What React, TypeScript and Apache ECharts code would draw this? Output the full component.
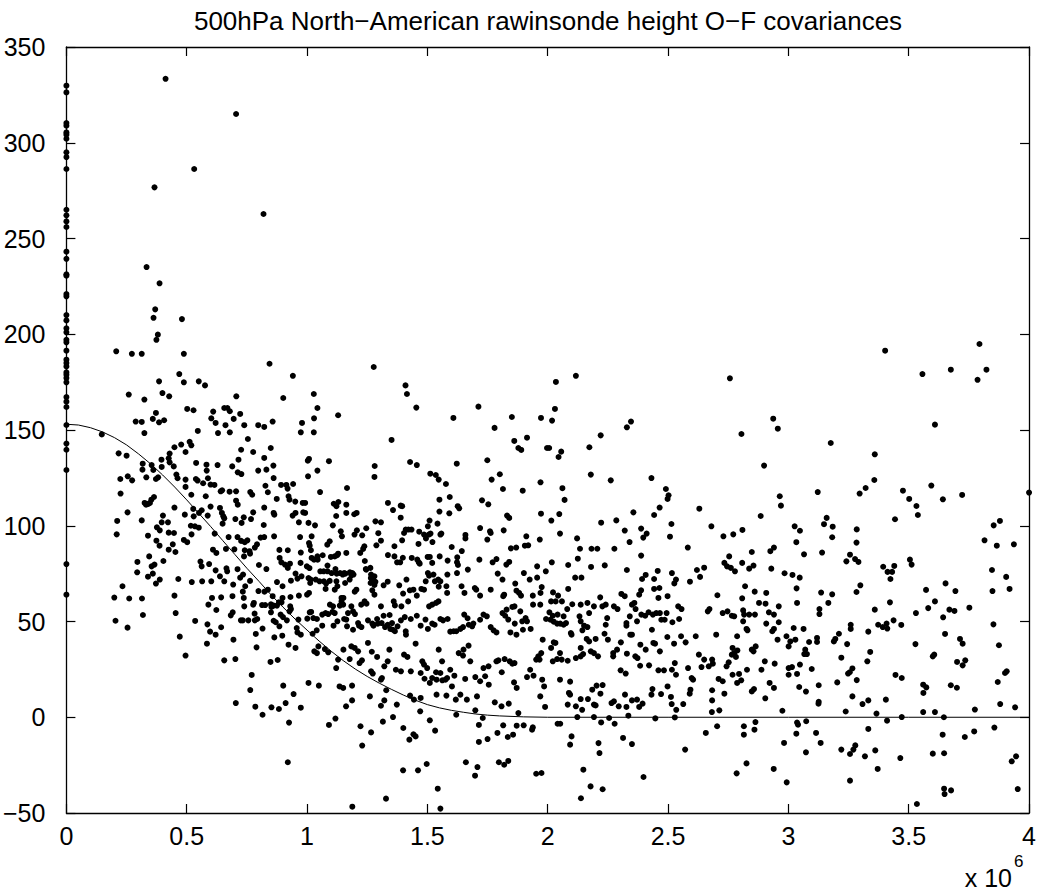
import React, { useEffect, useRef } from "react";
import * as echarts from "echarts";

const TITLE = "500hPa North\u2212American rawinsonde height O\u2212F covariances";
const X_TICKS = [0, 0.5, 1, 1.5, 2, 2.5, 3, 3.5, 4];
const Y_TICKS = [-50, 0, 50, 100, 150, 200, 250, 300, 350];

// separation distance in units of 10^6 m, covariance values
const zeroDistCov = [329.8, 326.3, 310.3, 308.9, 305.4, 304.2, 302.1, 295.0, 292.5, 286.3, 265.0, 262.1, 258.9, 256.0, 243.1, 239.4, 231.3, 230.6, 221.0, 219.8, 210.0, 207.2, 203.1, 201.0, 197.1, 195.8, 191.4, 186.7, 185.0, 183.2, 180.1, 178.9, 177.1, 174.9, 167.2, 164.8, 162.0, 152.6, 142.9, 139.7, 129.1, 80.0, 64.0];

const ptsUpper = [[0.412,333.4],[0.705,315.0],[0.531,286.3],[0.366,276.7],[0.819,262.8],[0.333,235.1],[0.387,226.6],[0.369,213.0],[0.362,208.6],[0.480,207.9],[0.380,199.8],[0.374,197.1],[0.207,191.1],[0.272,189.8],[0.313,189.8],[0.488,189.8],[0.844,184.6],[0.469,179.2],[0.941,178.3],[1.277,182.9],[2.117,178.3],[2.757,177.0],[3.402,191.4],[3.794,194.9],[3.557,179.2],[3.675,181.5],[3.823,181.5],[3.786,176.2]];

const ptsNear = [[0.385,175.4],[0.488,174.9],[0.550,175.4],[0.576,173.3],[0.259,168.5],[0.399,169.3],[0.427,167.6],[0.706,167.6],[0.901,166.7],[0.324,165.9],[0.502,161.0],[0.528,160.3],[0.656,161.5],[0.669,161.5],[0.679,159.8],[0.610,159.6],[0.722,158.4],[0.372,158.9],[0.359,155.8],[0.385,154.0],[0.406,155.1],[0.288,154.4],[0.313,154.2],[0.602,156.1],[0.620,153.7],[0.695,155.8],[0.661,152.5],[0.739,152.5],[0.797,152.5],[0.822,151.6],[0.857,154.4],[0.979,153.7],[0.324,148.4],[0.546,149.5],[0.630,148.4],[0.679,148.8],[0.974,148.8],[0.147,147.7],[0.754,145.3],[0.477,142.4],[0.512,143.8],[0.519,142.0],[0.449,141.0],[0.495,138.5],[0.726,139.7],[0.776,138.5],[0.217,137.8],[0.250,136.6],[0.429,137.7],[0.849,140.6],[0.317,132.4],[0.354,131.7],[0.395,134.5],[0.425,135.2],[0.429,133.1],[0.539,132.8],[0.582,131.9],[0.628,131.7],[0.689,131.0],[0.715,134.5],[0.822,135.4],[0.316,129.3],[0.361,129.1],[0.396,130.7],[0.446,131.0],[0.583,128.8],[0.712,127.9],[0.727,127.0],[0.797,128.8],[0.831,129.3],[0.860,131.4],[0.224,124.4],[0.255,125.8],[0.273,123.7],[0.332,125.3],[0.372,124.4],[0.381,125.3],[0.457,126.7],[0.462,124.8],[0.495,124.1],[0.538,124.4],[0.545,123.6],[0.568,122.2],[0.588,124.8],[0.599,121.5],[0.615,121.3],[0.861,124.9],[0.225,116.8],[0.495,120.3],[0.641,118.0],[0.647,118.5],[0.678,117.8],[0.705,118.0],[0.764,117.6],[0.772,116.2],[0.827,120.9],[0.837,117.5],[0.892,121.3],[0.914,121.3],[0.919,119.4],[0.942,121.8],[0.353,113.6],[0.364,115.0],[0.325,111.9],[0.331,111.0],[0.340,111.4],[0.347,111.9],[0.519,116.2],[0.579,115.4],[0.705,113.1],[0.874,114.0],[0.923,115.4],[0.927,113.6],[0.951,112.6],[0.982,111.9],[0.254,107.0],[0.449,109.5],[0.492,105.8],[0.527,108.8],[0.529,104.9],[0.551,106.7],[0.562,108.1],[0.587,105.3],[0.599,110.0],[0.638,109.3],[0.646,106.7],[0.652,104.9],[0.656,103.9],[0.702,103.5],[0.712,111.0],[0.737,104.4],[0.776,107.0],[0.822,109.5],[0.861,106.7],[0.864,105.8],[0.940,105.3],[0.952,106.7],[0.984,107.0],[0.211,102.5],[0.313,102.8],[0.401,105.3],[0.396,101.8],[0.422,101.8],[0.376,99.2],[0.388,97.6],[0.517,100.0],[0.534,99.7],[0.550,99.0],[0.649,101.1],[0.728,101.5],[0.767,103.5],[0.820,100.4],[0.966,101.8],[0.209,95.5],[0.339,94.8],[0.425,96.4],[0.447,96.2],[0.520,95.5],[0.616,95.9],[0.674,94.1],[0.711,94.1],[0.726,92.1],[0.741,91.4],[0.752,92.4],[0.807,93.8],[0.822,94.1],[0.863,94.5],[0.971,94.1],[0.374,92.2],[0.387,89.6],[0.442,90.3],[0.488,92.6],[0.502,91.4],[0.425,87.5],[0.453,86.3],[0.609,87.5],[0.623,85.8],[0.663,87.9],[0.698,87.7],[0.741,87.2],[0.761,86.7],[0.783,88.6],[0.792,90.3],[0.885,87.4],[0.920,87.2],[0.974,86.0],[0.295,81.1],[0.344,84.0],[0.366,79.7],[0.354,78.8],[0.403,81.6],[0.557,81.3],[0.562,78.8],[0.593,80.0],[0.620,76.7],[0.665,77.8],[0.668,76.2],[0.711,77.3],[0.738,84.0],[0.763,85.4],[0.800,79.5],[0.831,77.4],[0.886,83.2],[0.893,80.9],[0.908,79.7],[0.920,78.0],[0.929,80.2],[0.952,75.0],[0.973,80.6],[0.294,75.7],[0.339,73.4],[0.359,75.0],[0.372,69.8],[0.388,71.9],[0.465,72.2],[0.521,70.6],[0.564,71.0],[0.602,71.0],[0.638,73.6],[0.656,71.0],[0.693,69.3],[0.722,72.9],[0.734,74.5],[0.743,68.4],[0.763,71.2],[0.798,65.9],[0.823,65.6],[0.837,66.6],[0.875,70.6],[0.898,68.4],[0.933,71.3],[0.960,72.4],[0.977,73.6],[0.233,68.4],[0.199,62.5],[0.261,62.0],[0.314,62.0],[0.449,63.5],[0.605,62.3],[0.643,62.6],[0.690,63.2],[0.733,65.6],[0.737,62.3],[0.857,63.2],[0.898,62.3],[0.931,62.8],[0.966,63.5]];

const ptsNearLow = [[0.204,50.4],[0.254,46.8],[0.318,53.4],[0.454,54.4],[0.471,42.1],[0.495,32.2],[0.535,50.3],[0.590,58.8],[0.623,56.0],[0.586,48.5],[0.597,44.7],[0.620,43.1],[0.584,38.4],[0.643,47.0],[0.683,53.2],[0.691,54.8],[0.694,40.5],[0.656,29.7],[0.702,30.4],[0.725,50.6],[0.733,50.6],[0.756,50.6],[0.739,57.9],[0.776,58.8],[0.779,59.7],[0.782,54.1],[0.783,50.6],[0.793,51.3],[0.787,43.5],[0.815,46.3],[0.790,36.5],[0.813,58.6],[0.826,58.6],[0.850,59.0],[0.852,57.6],[0.861,58.3],[0.875,58.3],[0.883,60.0],[0.894,60.0],[0.850,54.8],[0.890,53.6],[0.900,52.3],[0.861,50.4],[0.870,49.6],[0.885,47.5],[0.916,50.6],[0.930,57.9],[0.933,56.5],[0.927,55.3],[0.964,51.0],[0.957,46.6],[0.960,44.3],[0.974,43.1],[0.864,41.7],[0.897,42.6],[0.923,37.9],[0.952,36.2],[0.848,28.9],[0.878,29.9],[0.770,22.1],[0.764,14.2],[0.704,7.4],[0.785,5.5],[0.815,1.3],[0.852,5.2],[0.883,4.3],[0.901,16.5],[0.911,7.4],[0.944,12.1],[0.974,5.0],[0.925,-2.8],[0.920,-23.5]];

const ptsMid = [[1.409,173.3],[1.415,168.8],[1.028,168.8],[1.043,161.5],[1.029,156.1],[1.129,157.7],[1.028,148.8],[1.454,161.7],[1.351,144.8],[1.608,156.3],[1.712,162.2],[1.779,151.1],[1.851,156.8],[1.972,156.3],[1.861,144.3],[1.878,140.6],[1.890,139.6],[1.914,146.0],[1.997,140.6],[1.003,134.0],[1.008,134.9],[1.091,133.7],[1.004,125.8],[1.043,128.8],[1.054,117.6],[1.281,131.2],[1.280,125.5],[1.428,133.3],[1.456,131.7],[1.622,132.4],[1.749,134.2],[1.512,127.2],[1.535,126.5],[1.547,124.1],[1.577,121.8],[1.767,124.1],[1.801,126.9],[1.814,119.2],[1.896,118.3],[1.970,122.7],[1.166,119.7],[0.992,111.9],[0.992,106.7],[1.111,111.5],[1.122,110.2],[1.130,112.4],[1.163,111.0],[1.121,105.1],[1.163,106.7],[1.196,106.0],[1.206,106.7],[1.336,111.9],[1.357,108.2],[1.389,110.5],[1.395,110.2],[1.389,104.2],[1.550,113.6],[1.593,115.0],[1.550,107.4],[1.591,106.5],[1.626,110.2],[1.632,109.1],[1.727,113.3],[1.753,111.2],[1.831,105.3],[1.840,104.1],[1.972,106.3],[1.006,101.5],[1.033,100.2],[1.107,100.2],[1.019,94.5],[1.008,91.0],[1.011,89.6],[1.094,91.9],[1.084,90.1],[1.140,97.1],[1.145,94.5],[1.197,95.4],[1.207,97.6],[1.229,95.0],[1.246,98.7],[1.284,102.3],[1.307,101.8],[1.296,96.1],[1.307,92.2],[1.288,89.8],[1.238,89.3],[1.233,87.9],[1.221,85.8],[1.336,84.7],[1.363,89.3],[1.395,92.4],[1.403,96.2],[1.410,98.0],[1.421,98.0],[1.434,98.0],[1.463,90.5],[1.466,96.9],[1.486,95.4],[1.494,93.4],[1.506,95.4],[1.513,95.9],[1.521,91.5],[1.502,99.7],[1.509,102.7],[1.542,101.1],[1.554,95.4],[1.558,95.9],[1.363,84.0],[1.374,80.9],[1.398,83.3],[1.387,80.9],[1.435,83.2],[1.458,82.3],[1.468,80.2],[1.464,80.9],[1.501,83.7],[1.510,83.7],[1.520,80.6],[1.551,84.0],[1.584,81.8],[1.601,88.9],[1.623,80.9],[1.627,79.5],[1.624,83.5],[1.643,86.8],[1.658,95.2],[1.658,93.4],[1.716,82.3],[1.719,98.8],[1.749,92.8],[1.760,97.1],[1.763,96.2],[1.817,97.6],[1.771,80.9],[1.787,82.6],[1.828,79.7],[1.840,81.1],[1.847,88.2],[1.869,88.6],[1.911,94.5],[1.919,89.8],[1.905,89.6],[1.967,92.8],[1.016,87.2],[1.019,83.2],[1.029,82.3],[1.044,82.3],[1.043,84.0],[1.065,84.6],[1.099,83.7],[1.115,84.0],[1.129,85.4],[1.125,84.6],[1.163,85.8],[0.999,78.8],[1.010,77.9],[1.055,76.2],[1.069,76.2],[1.085,79.2],[1.085,76.2],[1.102,75.3],[1.118,77.4],[1.123,75.0],[1.137,75.3],[1.148,74.5],[1.154,75.3],[1.159,75.0],[1.178,75.7],[1.188,75.3],[1.193,74.5],[1.240,81.6],[1.244,77.4],[1.246,77.1],[1.263,78.0],[1.265,72.7],[1.280,73.6],[1.266,74.5],[1.006,72.7],[1.013,70.1],[1.015,71.9],[1.036,71.9],[1.052,71.0],[1.070,71.0],[1.079,69.8],[1.094,71.2],[1.122,71.0],[1.126,68.4],[1.158,70.1],[1.177,71.9],[1.184,74.1],[1.264,70.1],[1.271,71.2],[1.280,69.1],[1.284,70.7],[1.318,68.9],[1.335,70.8],[1.383,68.9],[1.399,64.6],[1.413,71.9],[1.427,66.3],[1.442,66.6],[1.456,63.5],[1.475,67.0],[1.486,66.6],[1.493,71.0],[1.502,75.3],[1.507,73.9],[1.525,74.5],[1.531,71.0],[1.545,71.9],[1.554,71.0],[1.547,68.2],[1.579,68.4],[1.582,64.9],[1.583,74.5],[1.623,75.3],[1.642,68.4],[1.668,77.1],[1.654,64.9],[1.697,67.5],[1.703,66.6],[1.719,63.5],[1.763,66.6],[1.792,75.0],[1.812,71.9],[1.819,64.0],[1.815,63.2],[1.865,69.8],[1.870,66.1],[1.881,64.9],[1.889,63.5],[1.901,75.3],[1.925,71.9],[1.938,63.5],[1.956,72.9],[1.956,78.8],[1.970,64.9],[1.975,68.0],[1.992,76.2],[1.143,62.3],[1.151,62.3],[1.000,64.0],[1.008,64.9],[1.077,67.0],[1.115,66.6],[1.205,66.6],[1.198,65.6],[1.271,66.3],[1.280,64.0]];

const ptsMidLow = [[1.011,54.8],[1.017,55.0],[1.041,51.3],[1.026,51.8],[1.001,51.5],[1.063,53.6],[1.077,54.4],[1.088,53.9],[1.106,55.0],[1.115,54.4],[1.095,58.8],[1.108,57.9],[1.136,58.3],[1.143,60.5],[1.150,58.8],[1.170,54.4],[1.184,57.9],[1.191,55.3],[1.199,53.9],[1.225,58.8],[1.239,60.5],[1.247,59.3],[1.307,57.9],[1.343,53.4],[1.360,60.5],[1.365,58.4],[1.392,57.9],[1.420,60.5],[1.507,57.9],[1.520,58.8],[1.536,59.7],[1.546,60.5],[1.063,47.8],[1.040,45.4],[1.023,43.6],[1.110,47.8],[1.126,50.1],[1.154,51.3],[1.163,51.0],[1.166,47.5],[1.191,45.7],[1.212,49.2],[1.216,47.8],[1.226,47.1],[1.253,50.6],[1.271,48.9],[1.276,47.8],[1.291,51.3],[1.294,48.9],[1.310,49.2],[1.318,53.0],[1.324,47.1],[1.335,48.3],[1.346,46.1],[1.353,49.2],[1.357,45.7],[1.365,44.9],[1.376,47.5],[1.390,50.6],[1.406,52.3],[1.410,44.9],[1.411,43.1],[1.431,51.3],[1.456,53.0],[1.472,47.8],[1.492,51.0],[1.502,46.1],[1.520,48.9],[1.530,48.3],[1.554,51.3],[1.565,50.6],[1.584,51.3],[1.595,44.7],[1.609,44.9],[1.620,44.9],[1.637,46.1],[1.648,47.1],[1.653,53.6],[1.667,51.7],[1.672,48.3],[1.686,47.5],[1.691,48.9],[1.719,50.9],[1.733,53.6],[1.747,52.7],[1.763,47.1],[1.775,45.4],[1.787,44.3],[1.812,54.4],[1.823,53.0],[1.829,56.2],[1.853,57.6],[1.862,57.9],[1.886,55.3],[1.894,50.1],[1.908,51.8],[1.914,50.1],[1.929,46.1],[1.939,58.8],[1.969,58.8],[1.836,51.0],[1.863,48.9],[1.845,44.3],[1.870,43.1],[1.897,45.7],[1.979,40.5],[1.993,51.3],[1.030,34.4],[1.041,33.5],[1.047,37.0],[1.074,35.6],[1.088,33.9],[1.129,30.1],[1.121,25.7],[1.151,35.3],[1.177,30.4],[1.184,37.0],[1.198,36.2],[1.212,34.4],[1.218,28.3],[1.228,29.7],[1.253,38.8],[1.266,24.0],[1.273,22.8],[1.269,34.2],[1.291,31.5],[1.307,19.6],[1.311,20.5],[1.321,26.6],[1.335,29.2],[1.342,35.3],[1.369,24.8],[1.390,24.0],[1.403,32.7],[1.417,31.5],[1.431,24.0],[1.451,38.4],[1.472,23.1],[1.479,29.2],[1.486,27.5],[1.488,20.1],[1.499,25.7],[1.510,17.9],[1.520,20.5],[1.536,23.5],[1.538,19.6],[1.547,35.3],[1.561,29.2],[1.554,23.1],[1.562,19.3],[1.575,19.6],[1.582,20.5],[1.595,24.8],[1.602,16.1],[1.612,21.7],[1.630,33.5],[1.648,32.2],[1.650,35.3],[1.657,20.0],[1.671,37.4],[1.678,29.2],[1.699,21.0],[1.706,10.9],[1.719,18.8],[1.733,25.7],[1.740,21.4],[1.754,26.6],[1.755,17.0],[1.780,7.8],[1.787,29.2],[1.795,29.7],[1.809,23.5],[1.821,30.4],[1.842,29.2],[1.853,28.0],[1.862,28.3],[1.860,18.2],[1.871,15.3],[1.878,2.2],[1.914,21.0],[1.927,24.8],[1.941,21.7],[1.952,30.1],[1.961,31.8],[1.966,30.1],[1.973,33.5],[1.977,19.6],[1.985,16.1],[1.538,11.8],[1.579,11.3],[1.618,9.2],[1.637,11.8],[1.664,9.2],[1.472,10.1],[1.444,9.2],[1.428,11.3],[1.329,14.1],[1.307,6.0],[1.321,8.8],[1.373,6.6],[1.261,10.9],[1.162,5.7],[1.187,8.8],[1.006,17.9],[1.049,16.5],[1.135,16.1],[1.150,15.3],[1.187,16.5],[1.808,5.7],[1.838,7.1],[1.969,10.9],[1.989,5.4],[1.699,3.6],[1.620,1.3],[1.730,-0.4],[1.470,3.1],[1.510,-1.6],[1.532,-7.0],[1.315,-2.3],[1.357,0.1],[1.400,-5.6],[1.442,-8.9],[1.451,-10.0],[1.425,-11.7],[1.266,-7.9],[1.222,-4.7],[1.229,-14.8],[1.091,-4.0],[1.118,-0.7],[1.714,-4.0],[1.714,-12.9],[1.750,-11.4],[1.791,-8.2],[1.815,-4.2],[1.834,-10.3],[1.856,-9.1],[1.871,-4.4],[1.900,-4.2],[1.938,-5.3],[1.935,-6.5],[1.660,-23.5],[1.708,-26.0],[1.698,-30.5],[1.797,-23.5],[1.819,-24.8],[1.836,-22.8],[1.952,-29.5],[1.974,-29.1],[1.399,-27.7],[1.461,-27.7],[1.497,-24.4],[1.543,-37.3],[1.328,-42.5],[1.188,-46.7],[1.554,-47.7]];

const ptsFarMid = [[2.034,175.1],[2.030,161.0],[2.018,154.9],[2.006,140.6],[2.056,138.7],[2.045,135.9],[2.220,147.2],[2.173,141.0],[2.329,151.4],[2.346,154.4],[2.179,126.7],[2.262,123.7],[2.431,124.9],[2.491,119.2],[2.502,115.9],[2.498,114.0],[2.465,109.5],[2.442,105.6],[2.630,108.9],[2.061,119.6],[2.070,113.5],[2.048,106.1],[2.015,102.7],[2.051,95.9],[2.222,101.6],[2.285,102.8],[2.356,107.0],[2.320,97.5],[2.340,91.5],[2.388,98.5],[2.411,95.9],[2.397,93.8],[2.514,100.9],[2.508,94.3],[2.122,93.4],[2.134,88.0],[2.182,88.0],[2.206,88.0],[2.277,88.0],[2.125,82.8],[2.017,80.9],[2.085,79.5],[2.180,78.5],[2.237,79.3],[2.388,84.4],[2.582,88.6],[2.680,99.7],[2.730,94.5],[2.771,95.5],[2.809,97.8],[2.754,84.0],[2.734,80.6],[2.745,78.8],[2.761,78.0],[2.778,76.2],[2.808,80.6],[2.848,86.3],[2.837,77.6],[2.855,79.2],[2.885,105.1],[2.899,131.4],[2.937,155.9],[2.956,150.7],[2.805,147.9],[2.964,115.4],[2.969,110.5],[2.925,86.7],[2.940,88.6],[2.929,77.6],[2.984,75.2],[2.329,76.9],[2.407,74.3],[2.392,72.2],[2.457,76.4],[2.442,72.2],[2.516,75.3],[2.533,71.9],[2.526,69.9],[2.620,76.9],[2.633,73.3],[2.650,78.1],[2.591,70.8],[2.114,72.9],[2.140,72.9],[2.085,67.0],[2.022,65.2],[2.043,63.5],[2.218,62.6],[2.306,64.4],[2.320,63.2],[2.388,66.3],[2.380,64.0],[2.442,67.0],[2.464,67.5],[2.460,62.3],[2.498,63.2],[2.705,63.7],[2.820,68.4],[2.860,65.6],[2.908,64.9],[2.808,62.1]];

const ptsFarLow = [[2.014,60.5],[2.033,60.5],[2.059,60.5],[2.081,56.5],[2.102,59.0],[2.137,58.8],[2.165,59.7],[2.007,54.8],[2.021,53.0],[2.041,53.6],[2.066,52.7],[2.011,50.9],[2.025,49.9],[2.039,48.9],[2.052,48.9],[2.066,48.3],[2.076,49.2],[2.132,52.7],[2.137,50.1],[2.151,47.8],[2.144,45.4],[2.165,47.1],[2.172,54.4],[2.192,57.9],[2.227,57.9],[2.241,58.8],[2.247,51.8],[2.241,48.3],[2.096,44.0],[2.099,43.1],[2.025,39.1],[2.014,36.2],[2.032,38.8],[2.051,33.5],[2.039,30.4],[2.021,29.2],[2.058,30.1],[2.083,29.5],[2.117,30.9],[2.137,31.8],[2.147,33.0],[2.162,40.9],[2.172,39.6],[2.179,34.4],[2.192,33.5],[2.209,31.8],[2.137,36.2],[2.199,40.9],[2.236,43.6],[2.250,40.5],[2.275,57.9],[2.290,56.5],[2.272,33.5],[2.272,31.8],[2.288,35.3],[2.304,39.1],[2.329,33.2],[2.343,43.1],[2.350,43.1],[2.327,49.2],[2.327,47.8],[2.341,52.7],[2.365,56.5],[2.371,50.1],[2.389,53.6],[2.405,53.0],[2.419,54.8],[2.433,45.7],[2.437,53.6],[2.451,54.4],[2.466,54.4],[2.472,50.9],[2.486,50.9],[2.494,54.4],[2.360,59.7],[2.350,58.8],[2.385,37.9],[2.407,35.3],[2.439,38.8],[2.446,38.4],[2.466,34.4],[2.364,31.8],[2.373,30.9],[2.384,26.9],[2.421,27.1],[2.303,24.5],[2.324,22.8],[2.460,24.5],[2.483,24.5],[2.518,49.6],[2.525,38.4],[2.546,51.3],[2.497,41.9],[2.554,42.3],[2.573,39.1],[2.615,42.3],[2.542,57.9],[2.556,56.5],[2.528,28.3],[2.516,24.8],[2.533,22.2],[2.583,25.7],[2.598,20.5],[2.604,19.6],[2.593,14.4],[2.590,12.3],[2.628,32.7],[2.650,30.1],[2.669,26.6],[2.683,30.1],[2.686,28.0],[2.639,26.2],[2.665,55.3],[2.672,56.5],[2.700,43.1],[2.727,54.4],[2.747,55.3],[2.765,53.0],[2.775,52.7],[2.812,55.8],[2.816,53.6],[2.837,53.6],[2.861,53.6],[2.878,59.7],[2.905,59.3],[2.919,54.8],[2.940,53.6],[2.960,57.9],[2.812,50.1],[2.826,46.1],[2.830,45.4],[2.908,48.9],[2.933,44.9],[2.940,46.1],[2.960,49.6],[2.787,42.3],[2.768,36.2],[2.788,34.9],[2.848,35.3],[2.855,34.4],[2.864,37.0],[2.765,32.7],[2.782,31.5],[2.775,33.5],[2.752,28.7],[2.710,20.0],[2.727,18.8],[2.743,26.6],[2.768,22.2],[2.795,22.6],[2.804,19.3],[2.787,17.9],[2.828,24.8],[2.888,24.8],[2.902,29.2],[2.943,28.0],[2.922,17.9],[2.940,15.3],[2.955,40.5],[2.992,42.3],[3.001,37.0],[3.001,25.7],[3.001,22.2],[2.683,14.1],[2.683,8.8],[2.734,12.3],[2.682,2.7],[2.713,3.6],[2.857,14.7],[2.848,13.5],[2.904,9.9],[2.975,3.4],[2.088,12.7],[2.093,11.8],[2.083,6.6],[2.117,5.7],[2.137,9.5],[2.143,3.9],[2.167,9.5],[2.192,6.6],[2.199,6.2],[2.185,14.4],[2.203,16.5],[2.219,12.3],[2.228,16.8],[2.051,19.6],[2.093,18.6],[2.265,7.4],[2.275,8.3],[2.295,5.7],[2.321,11.8],[2.327,5.4],[2.350,8.8],[2.371,9.2],[2.380,5.4],[2.394,7.1],[2.431,11.8],[2.435,14.7],[2.471,12.1],[2.512,10.6],[2.515,6.9],[2.534,3.9],[2.563,6.9],[2.498,16.1],[2.335,0.8],[2.447,-0.6],[2.528,-0.1],[2.123,0.1],[2.192,0.1],[2.255,-0.4],[2.041,-3.4],[2.052,-3.4],[2.222,-2.7],[2.278,-3.4],[2.099,-10.0],[2.093,-14.3],[2.211,-13.5],[2.215,-18.7],[2.313,-10.8],[2.350,-14.0],[2.571,-16.9],[2.657,-8.2],[2.704,-4.7],[2.815,-4.7],[2.815,-9.1],[2.863,-2.5],[2.859,-6.5],[2.982,-13.4],[2.148,-27.4],[2.178,-36.1],[2.228,-37.6],[2.138,-42.3],[2.398,-31.2],[2.785,-29.3],[2.826,-24.1],[2.939,-27.0],[2.993,-34.0]];

const ptsEdgeMid = [[3.609,152.8],[3.176,143.2],[3.359,137.3],[3.122,117.6],[3.357,123.9],[3.321,119.7],[3.296,116.8],[3.476,118.3],[3.502,114.0],[3.532,110.3],[3.538,105.6],[3.594,121.0],[3.642,113.8],[3.722,116.1],[4.0,117.3],[3.443,103.4],[3.026,99.7],[3.048,97.4],[3.033,91.4],[3.065,85.1],[3.159,104.1],[3.148,100.8],[3.184,99.5],[3.182,94.0],[3.140,86.0],[3.284,98.1],[3.283,91.2],[3.256,84.9],[3.241,81.4],[3.277,82.6],[3.291,81.1],[3.394,78.6],[3.412,75.9],[3.431,75.9],[3.424,72.2],[3.440,79.0],[3.505,82.3],[3.512,79.7],[3.815,92.4],[3.853,100.2],[3.879,102.5],[3.866,89.6],[3.937,90.3],[3.846,76.9],[3.905,73.3],[3.017,74.3],[3.047,72.9],[3.034,67.3],[3.136,65.1],[3.182,64.2],[3.283,65.4],[3.299,68.9],[3.572,66.5],[3.653,69.9],[3.694,65.9],[3.848,65.9],[3.919,67.0]];

const ptsEdgeLow = [[3.036,59.7],[3.129,56.5],[3.129,53.9],[3.166,59.7],[3.359,56.2],[3.422,60.0],[3.530,54.4],[3.581,57.0],[3.609,60.5],[3.643,52.2],[3.669,56.2],[3.690,55.5],[3.752,57.2],[3.022,46.6],[3.063,46.1],[3.008,39.6],[3.029,40.5],[3.086,39.3],[3.119,41.4],[3.119,39.3],[3.189,39.6],[3.195,40.9],[3.210,43.6],[3.244,38.2],[3.259,48.3],[3.259,46.1],[3.332,44.7],[3.373,48.3],[3.392,47.1],[3.408,48.9],[3.411,46.3],[3.437,50.6],[3.469,48.2],[3.070,35.3],[3.066,33.0],[3.077,33.0],[3.048,27.5],[3.036,22.6],[3.015,26.2],[3.097,25.2],[3.045,15.8],[3.073,13.4],[3.126,16.7],[3.126,8.1],[3.125,7.1],[3.203,18.2],[3.220,31.1],[3.248,22.8],[3.255,23.5],[3.266,25.5],[3.284,19.4],[3.266,10.9],[3.328,29.2],[3.340,34.1],[3.308,6.9],[3.332,8.8],[3.405,9.2],[3.366,1.9],[3.238,3.0],[3.445,22.1],[3.471,20.5],[3.528,38.2],[3.560,17.0],[3.573,15.6],[3.561,12.7],[3.600,31.8],[3.606,32.7],[3.651,43.5],[3.713,40.9],[3.724,38.4],[3.701,28.9],[3.724,27.1],[3.735,29.7],[3.675,16.7],[3.700,15.4],[3.852,48.5],[3.875,37.6],[3.900,23.1],[3.907,24.0],[3.870,18.4],[3.775,4.0],[3.880,6.9],[3.942,5.2],[3.560,2.7],[3.609,2.7],[3.471,0.1],[3.410,-1.8],[3.646,0.0],[3.036,-2.8],[3.040,-3.9],[3.074,-2.1],[3.033,-8.6],[3.115,-8.2],[3.134,-13.4],[3.073,-18.3],[3.332,-6.1],[3.220,-16.9],[3.256,-19.2],[3.270,-16.9],[3.278,-14.7],[3.318,-20.4],[3.361,-17.3],[3.371,-27.0],[3.465,-21.3],[3.256,-33.1],[3.600,-19.0],[3.647,-18.8],[3.641,-9.1],[3.733,-10.3],[3.772,-7.4],[3.856,-5.4],[3.928,-23.0],[3.946,-20.4],[3.953,-37.5],[3.647,-37.3],[3.649,-40.1],[3.676,-38.2],[3.534,-45.3]];

// fitted covariance model
const modelDist = [0, 0.05, 0.1, 0.15, 0.2, 0.25, 0.3, 0.35, 0.4, 0.45, 0.5, 0.55, 0.6, 0.65, 0.7, 0.75, 0.8, 0.85, 0.9, 0.95, 1.0, 1.05, 1.1, 1.15, 1.2, 1.25, 1.3, 1.35, 1.4, 1.45, 1.5, 1.55, 1.6, 1.65, 1.7, 1.75, 1.8, 1.9, 2.0, 2.5, 3.0, 3.5, 4.0];
const modelCov = [153, 152.6, 151.2, 149.0, 146.0, 142.2, 137.5, 132.3, 126.5, 120.2, 113.5, 106.5, 99.5, 92.2, 85.0, 77.8, 71.0, 64.0, 57.5, 51.3, 45.5, 39.8, 34.5, 29.6, 25.2, 21.3, 17.8, 14.6, 11.6, 8.9, 6.6, 4.9, 3.6, 2.6, 1.7, 1.1, 0.7, 0.2, 0, 0, 0, 0, 0];

const FONT = "'Liberation Sans', Arial, Helvetica, sans-serif";

export default function App() {
  const ref = useRef<HTMLDivElement>(null);
  useEffect(() => {
    if (!ref.current) return;
    const chart = echarts.init(ref.current, undefined, { renderer: "svg" });
    const points: number[][] = [
      ...zeroDistCov.map((v) => [0, v]),
      ...ptsUpper, ...ptsNear, ...ptsNearLow, ...ptsMid, ...ptsMidLow,
      ...ptsFarMid, ...ptsFarLow, ...ptsEdgeMid, ...ptsEdgeLow,
    ];
    const model = modelDist.map((d, i) => [d, modelCov[i]]);
    const minus = (v: number) => String(v).replace("-", "\u2212");
    const axisLine = { onZero: false, lineStyle: { color: "#000", width: 1.3 } };
    const tick = { inside: true, length: 9, lineStyle: { color: "#000", width: 1.2 } };
    const label = { color: "#000", fontSize: 25, fontFamily: FONT };
    chart.setOption({
      animation: false,
      backgroundColor: "#fff",
      grid: { left: 59, top: 47, width: 972, height: 766, containLabel: false },
      xAxis: [
        {
          type: "value", min: X_TICKS[0], max: X_TICKS[X_TICKS.length - 1], interval: 0.5,
          position: "bottom", axisLine, axisTick: tick, splitLine: { show: false },
          axisLabel: { ...label, margin: 10, formatter: minus },
        },
        {
          type: "value", min: X_TICKS[0], max: X_TICKS[X_TICKS.length - 1], interval: 0.5,
          position: "top", axisLine, axisTick: tick, splitLine: { show: false },
          axisLabel: { show: false },
        },
      ],
      yAxis: [
        {
          type: "value", min: Y_TICKS[0], max: Y_TICKS[Y_TICKS.length - 1], interval: 50,
          position: "left", axisLine, axisTick: tick, splitLine: { show: false },
          axisLabel: { ...label, margin: 21, formatter: minus },
        },
        {
          type: "value", min: Y_TICKS[0], max: Y_TICKS[Y_TICKS.length - 1], interval: 50,
          position: "right", axisLine, axisTick: tick, splitLine: { show: false },
          axisLabel: { show: false },
        },
      ],
      series: [
        {
          type: "scatter", data: points, symbol: "circle", symbolSize: 6,
          itemStyle: { color: "#000", opacity: 1 }, clip: false, silent: true,
        },
        {
          type: "line", data: model, showSymbol: false, smooth: false,
          lineStyle: { color: "#000", width: 1 }, silent: true,
        },
      ],
      graphic: [
        {
          type: "text", x: 548, y: 21,
          style: { text: TITLE, fill: "#000", font: `26px ${FONT}`, align: "center", verticalAlign: "middle", textAlign: "center", textVerticalAlign: "middle" },
        },
        {
          type: "text", x: 1012, y: 878,
          style: { text: "x 10", fill: "#000", font: `25px ${FONT}`, align: "right", verticalAlign: "middle", textAlign: "right", textVerticalAlign: "middle" },
        },
        {
          type: "text", x: 1014, y: 861,
          style: { text: "6", fill: "#000", font: `17px ${FONT}`, align: "left", verticalAlign: "middle", textAlign: "left", textVerticalAlign: "middle" },
        },
      ],
    });
    return () => chart.dispose();
  }, []);
  return (
    <div
      ref={ref}
      style={{ position: "fixed", left: 0, top: 0, width: 1039, height: 892, background: "#fff" }}
    />
  );
}
